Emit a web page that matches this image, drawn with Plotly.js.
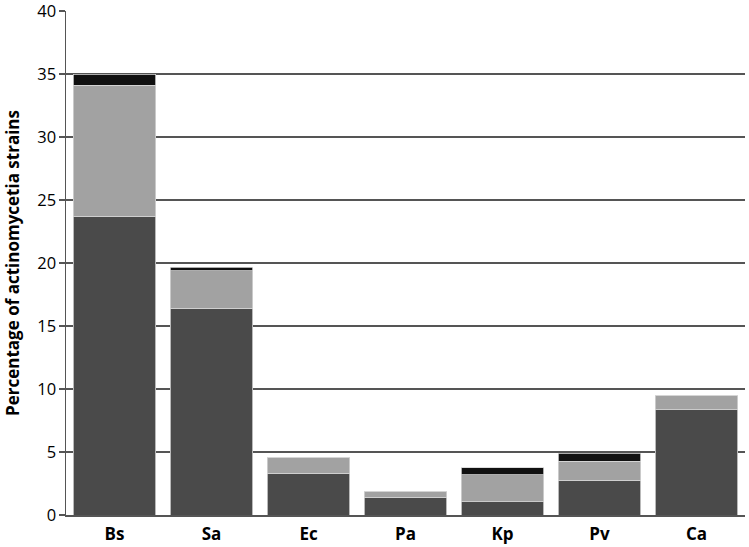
<!DOCTYPE html>
<html>
<head>
<meta charset="utf-8">
<script src="https://cdn.plot.ly/plotly-3.0.1.min.js"></script>
<style>html,body{margin:0;padding:0;background:#fff;}#chart{width:749px;height:547px;}</style>
</head>
<body>
<div id="chart"></div>
<script>
const categories = ["Bs", "Sa", "Ec", "Pa", "Kp", "Pv", "Ca"];
const seriesDark = [23.7, 16.4, 3.3, 1.4, 1.05, 2.75, 8.35];
const seriesLight = [10.4, 3.0, 1.25, 0.5, 2.15, 1.5, 1.1];
const seriesBlack = [0.9, 0.25, 0, 0, 0.55, 0.65, 0];
const yTicks = [0, 5, 10, 15, 20, 25, 30, 35, 40];

function bar(vals, color, name) {
  return {
    type: "bar", x: categories, y: vals, name: name,
    marker: {color: color, line: {color: "#d4d4d4", width: 0.8}},
    hoverinfo: "x+y"
  };
}

const data = [
  bar(seriesDark, "#4a4a4a", "Series 1"),
  bar(seriesLight, "#a2a2a2", "Series 2"),
  bar(seriesBlack, "#111111", "Series 3")
];

const layout = {
  width: 749, height: 547,
  margin: {l: 66, r: 4, t: 11, b: 32},
  barmode: "stack",
  bargap: 0.145,
  showlegend: false,
  paper_bgcolor: "#fff", plot_bgcolor: "#fff",
  font: {family: "Open Sans, sans-serif", color: "#000"},
  xaxis: {
    showline: true, linecolor: "#555", linewidth: 1.5,
    ticks: "", showgrid: false,
    ticklabelstandoff: 3,
    tickfont: {family: "Open Sans, sans-serif", size: 17, color: "#000", weight: "bold"}
  },
  yaxis: {
    range: [0, 40], tickmode: "array", tickvals: yTicks, ticktext: yTicks.map(String),
    showline: true, linecolor: "#555", linewidth: 1.5,
    ticks: "outside", ticklen: 6, tickcolor: "#555", tickwidth: 1.5,
    showgrid: true, gridcolor: "#555", gridwidth: 1.3,
    zeroline: false,
    ticklabeloverflow: "allow",
    ticklabelstandoff: -1,
    tickfont: {family: "Open Sans, sans-serif", size: 16.5, color: "#000"},
    title: {text: "<b>Percentage of actinomycetia strains</b>", font: {family: "Open Sans, sans-serif", size: 17, color: "#000"}, standoff: 13}
  }
};

Plotly.newPlot("chart", data, layout, {staticPlot: true, displayModeBar: false});
</script>
</body>
</html>
